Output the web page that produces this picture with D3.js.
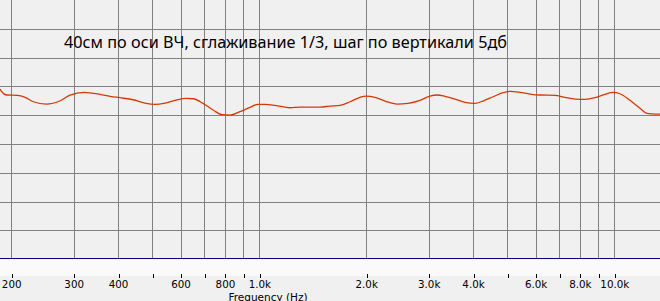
<!DOCTYPE html>
<html>
<head>
<meta charset="utf-8">
<script src="https://cdn.jsdelivr.net/npm/d3@7"></script>
<style>
  html, body { margin: 0; padding: 0; background: #f0f0f0; overflow: hidden; }
  svg { display: block; }
</style>
</head>
<body>
<div id="chart"></div>
<script>
// frequency response, 1/3 oct smoothing
var freqs = [186, 188, 194, 208, 219, 231, 251, 275, 293, 321, 356, 380, 405, 441, 476, 509,
             543, 579, 622, 651, 694, 741, 785, 827, 882, 942, 992, 1038, 1107, 1220, 1302, 1483,
             1582, 1688, 1801, 1921, 1998, 2118, 2261, 2443, 2624, 2836, 3026, 3167, 3336, 3559,
             3797, 4051, 4267, 4553, 4860, 5085, 5426, 5787, 6176, 6807, 7263, 7750, 8271, 8823,
             9415, 9916, 10377, 11071, 11815, 12364, 13019, 13450];
var levels = [84.55, 84.08, 83.51, 83.45, 83.11, 82.34, 81.94, 82.52, 83.51, 83.98, 83.63, 83.28,
              83.04, 82.69, 82.12, 81.89, 82.12, 82.59, 82.93, 82.86, 82.07, 80.90, 80.09, 80.03,
              80.61, 81.37, 81.89, 81.89, 81.72, 81.30, 81.42, 81.42, 81.60, 81.72, 82.34, 83.11,
              83.33, 83.11, 82.47, 81.94, 82.07, 82.59, 83.33, 83.51, 83.28, 82.81, 82.24, 82.07,
              82.47, 83.21, 83.91, 84.15, 83.98, 83.68, 83.51, 83.45, 83.11, 82.81, 82.76, 83.04,
              83.63, 83.98, 83.73, 82.59, 81.20, 80.33, 80.21, 80.21];

var gridFreqs = [200, 300, 400, 500, 600, 700, 800, 900, 1000,
                 2000, 3000, 4000, 5000, 6000, 7000, 8000, 9000, 10000];
var tickLabels = {200: "200", 300: "300", 400: "400", 600: "600", 800: "800", 1000: "1.0k",
                  2000: "2.0k", 3000: "3.0k", 4000: "4.0k", 6000: "6.0k", 8000: "8.0k", 10000: "10.0k"};
var dbGrid = [60, 65, 70, 75, 80, 85, 90, 95];
var title = "40см по оси ВЧ, сглаживание 1/3, шаг по вертикали 5дб";
var xTitle = "Frequency (Hz)";

var width = 660, height = 301;
var plotBottom = 259.3;

var x = d3.scaleLog().domain([186, 13450]).range([0, width]);
var y = d3.scaleLinear().domain([55, 100]).range([plotBottom, 0]);

function px(v) { return Math.round(v) + 0.5; }

var svg = d3.select("#chart").append("svg")
    .attr("width", width)
    .attr("height", height);

svg.append("rect")
    .attr("width", width).attr("height", height)
    .attr("fill", "#f0f0f0");

// light band under the plot
svg.append("rect")
    .attr("x", 0).attr("y", Math.round(plotBottom))
    .attr("width", width).attr("height", 17)
    .attr("fill", "#fafafa");

// grid
var grid = svg.append("g").attr("shape-rendering", "crispEdges");
grid.selectAll("line.v")
    .data(gridFreqs)
    .enter().append("line")
    .attr("class", "v")
    .attr("x1", function (d) { return px(x(d)); })
    .attr("x2", function (d) { return px(x(d)); })
    .attr("y1", 0).attr("y2", plotBottom)
    .attr("stroke", "#808080");
grid.selectAll("line.h")
    .data(dbGrid)
    .enter().append("line")
    .attr("class", "h")
    .attr("x1", 0).attr("x2", width)
    .attr("y1", function (d) { return px(y(d)); })
    .attr("y2", function (d) { return px(y(d)); })
    .attr("stroke", "#808080");

// bottom line of the plot
svg.append("line")
    .attr("x1", 0).attr("x2", width)
    .attr("y1", px(plotBottom) - 1).attr("y2", px(plotBottom) - 1)
    .attr("stroke", "#000080")
    .attr("stroke-width", 1.5)
    .attr("shape-rendering", "crispEdges");

// frequency axis
var axis = d3.axisBottom(x)
    .tickValues(gridFreqs)
    .tickSize(4)
    .tickPadding(3)
    .tickFormat(function (d) { return tickLabels[d] || ""; });

var ax = svg.append("g")
    .attr("transform", "translate(0,274)")
    .call(axis);
ax.select(".domain").remove();
ax.selectAll(".tick line")
    .attr("transform", function () { return "translate(0.5,0)"; })
    .attr("stroke", "#000")
    .attr("shape-rendering", "crispEdges");
ax.selectAll(".tick text")
    .attr("fill", "#000")
    .style("font-family", "'DejaVu Sans', sans-serif")
    .style("font-size", "10.3px");

svg.append("text")
    .attr("x", 268).attr("y", 301)
    .attr("text-anchor", "middle")
    .style("font-family", "'DejaVu Sans', sans-serif")
    .style("font-size", "10.5px")
    .attr("fill", "#000")
    .text(xTitle);

// response curve
var points = freqs.map(function (f, i) { return [f, levels[i]]; });
var line = d3.line()
    .x(function (d) { return x(d[0]); })
    .y(function (d) { return y(d[1]); })
    .curve(d3.curveMonotoneX);

svg.append("path")
    .datum(points)
    .attr("d", line)
    .attr("fill", "none")
    .attr("stroke", "#d83800")
    .attr("stroke-width", 1.3);

// note
svg.append("text")
    .attr("x", 64).attr("y", 48)
    .attr("textLength", 443)
    .attr("lengthAdjust", "spacingAndGlyphs")
    .style("font-family", "'Noto Sans', sans-serif")
    .style("font-size", "16px")
    .attr("fill", "#000")
    .text(title);
</script>
</body>
</html>
